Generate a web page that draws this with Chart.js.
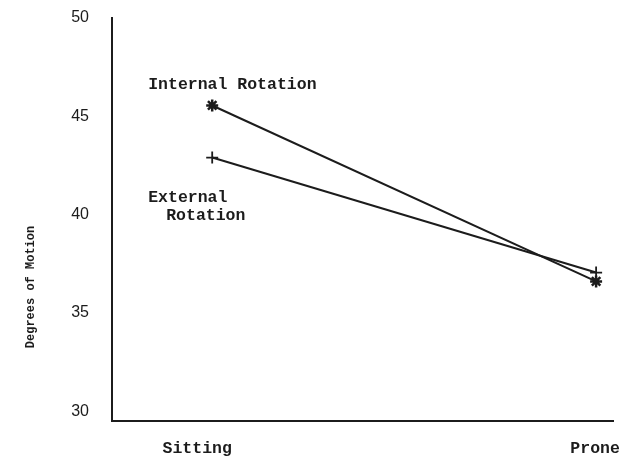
<!DOCTYPE html>
<html><head><meta charset="utf-8">
<script src="https://cdn.jsdelivr.net/npm/chart.js@4"></script>
<style>html,body{margin:0;padding:0;background:#fff;}#wrap{width:635px;height:460px;position:relative;}</style>
</head><body><div id="wrap"><canvas id="c" width="635" height="460"></canvas></div>
<script>
const categories = ["Sitting", "Prone"];
const categoryPositions = [1, 2];
const internalRotation = [45.55, 36.6];
const externalRotation = [42.9, 37.05];
const yTicks = [30, 35, 40, 45, 50];
const seriesNames = ["Internal Rotation", "External Rotation"];
const yTitle = "Degrees of Motion";

const FONT = '"Liberation Mono", "DejaVu Sans Mono", monospace';
const TICKFONT = '"Liberation Sans", Arial, sans-serif';
const INK = '#1c1c1c';

const labelsPlugin = {
  id: 'labels',
  afterDraw(chart) {
    const ctx = chart.ctx;
    const xs = chart.scales.x, ys = chart.scales.y;
    ctx.save();
    ctx.fillStyle = INK;
    ctx.font = 'bold 16.5px ' + FONT;
    ctx.textBaseline = 'middle';
    ctx.textAlign = 'left';
    const px = xs.getPixelForValue(categoryPositions[0]);
    const pyI = ys.getPixelForValue(internalRotation[0]);
    const pyE = ys.getPixelForValue(externalRotation[0]);
    ctx.fillText(seriesNames[0], px - 64, pyI - 21);
    const parts = seriesNames[1].split(' ');
    ctx.fillText(parts[0], px - 64, pyE + 40);
    ctx.fillText(parts[1], px - 46, pyE + 58);
    // x category labels
    const py = chart.chartArea.bottom + 28;
    ctx.textAlign = 'center';
    ctx.fillText(categories[0], px - 15, py);
    ctx.fillText(categories[1], xs.getPixelForValue(categoryPositions[1]) - 1, py);
    // y-axis title
    ctx.font = 'bold 12px ' + FONT;
    ctx.translate(31, 287);
    ctx.rotate(-Math.PI / 2);
    ctx.textAlign = 'center';
    ctx.fillText(yTitle, 0, 0);
    ctx.restore();
  }
};

new Chart(document.getElementById('c'), {
  type: 'line',
  data: {
    datasets: [
      {
        label: seriesNames[0],
        data: categoryPositions.map((x, i) => ({x, y: internalRotation[i]})),
        borderColor: INK, backgroundColor: INK, borderWidth: 2,
        pointStyle: 'star', pointRadius: 6, pointBorderWidth: 2.5,
        pointBorderColor: INK, tension: 0
      },
      {
        label: seriesNames[1],
        data: categoryPositions.map((x, i) => ({x, y: externalRotation[i]})),
        borderColor: INK, backgroundColor: INK, borderWidth: 2,
        pointStyle: 'cross', pointRadius: 6, pointBorderWidth: 1.8,
        pointBorderColor: INK, tension: 0
      }
    ]
  },
  options: {
    responsive: false, animation: false, devicePixelRatio: 1,
    layout: { padding: { top: 18, right: 22, left: 0, bottom: 0 } },
    plugins: { legend: { display: false }, tooltip: { enabled: false } },
    scales: {
      x: {
        type: 'linear', min: 0.739, max: 2.044,
        afterBuildTicks: (s) => { s.ticks = categoryPositions.map(v => ({value: v})); },
        afterFit: (s) => { s.height = 39; s.paddingLeft = 0; s.paddingRight = 0; },
        grid: { display: false, drawTicks: false },
        border: { display: true, color: INK, width: 2 },
        ticks: { display: false }
      },
      y: {
        type: 'linear', min: 29.5, max: 50,
        afterBuildTicks: (s) => { s.ticks = yTicks.map(v => ({value: v})); },
        afterFit: (s) => { s.width = 112; s.paddingTop = 0; s.paddingBottom = 0; },
        grid: { display: false, drawTicks: false },
        border: { display: true, color: INK, width: 2 },
        ticks: { color: INK, font: { family: TICKFONT, size: 16 }, padding: 23 }
      }
    }
  },
  plugins: [labelsPlugin]
});
</script></body></html>
